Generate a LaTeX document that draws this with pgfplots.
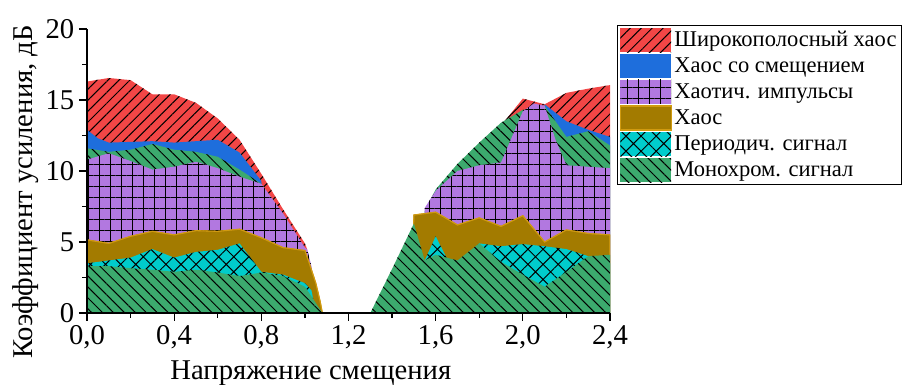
\documentclass[border=0pt]{standalone}
\usepackage{pgfplots}
\pgfplotsset{compat=1.18}
\usepackage{fontspec}
\setmainfont{Liberation Serif}
\usetikzlibrary{patterns.meta}
\definecolor{cRed}{HTML}{F24646}
\definecolor{cBlue}{HTML}{1E6EDC}
\definecolor{cPurp}{HTML}{B278E0}
\definecolor{cBrown}{HTML}{B88C00}
\definecolor{cBrownDk}{HTML}{5E4400}
\definecolor{cBrownEdge}{HTML}{D09A10}
\definecolor{cCyan}{HTML}{00CCCC}
\definecolor{cGreen}{HTML}{3CAA6E}
\definecolor{cOlive}{HTML}{8C8C14}
\begin{document}
\begin{tikzpicture}
\begin{axis}[
  at={(0pt,0pt)}, anchor=south west,
  scale only axis, width=392.25pt, height=213pt,
  xmin=0, xmax=2.4, ymin=0, ymax=20,
  axis lines*=left, axis on top,
  axis line style={black, line width=1pt},
  tick align=outside, major tick length=6pt, minor tick length=3.5pt,
  every tick/.style={black, line width=0.9pt},
  xtick={0,0.4,0.8,1.2,1.6,2.0,2.4},
  xticklabels={{0,0},{0,4},{0,8},{1,2},{1,6},{2,0},{2,4}},
  minor xtick={0.2,0.6,1.0,1.4,1.8,2.2},
  ytick={0,5,10,15,20}, yticklabels={0,5,10,15,20},
  minor ytick={2.5,7.5,12.5,17.5},
  tick label style={font=\fontsize{21.5}{24}\selectfont},
  label style={font=\fontsize{21.5}{24}\selectfont},
  xlabel={Напряжение смещения},
  ylabel={Коэффициент усиления, дБ},
  xlabel style={at={(axis description cs:0.428,-0.233)}, anchor=base},
  ylabel style={at={(axis description cs:-0.1166,0.426)}, anchor=center},
  legend style={at={(1,1)}, anchor=north west, xshift=5pt, yshift=3pt,
    draw=black, line width=0.9pt, inner xsep=2pt, inner ysep=2pt,
    font=\fontsize{16.9}{19}\selectfont, row sep=1.3pt,
    /tikz/every even column/.append style={column sep=4pt}},
  legend cell align=left,
  legend image code/.code={\path[#1, draw=none] (0pt,-9pt) rectangle (38pt,9pt);},
]
% red: wideband chaos
\addplot[fill=cRed, draw=none, postaction={pattern={Lines[angle=45,distance=5.8pt,line width=0.75pt]}, pattern color=black}] coordinates {
(0,16.3) (0.1,16.55) (0.2,16.4) (0.3,15.4) (0.4,15.4) (0.5,14.8) (0.6,13.7) (0.7,12.2) (0.8,9.8) (0.9,7.3) (1.0,4.9) (1.01,4.5) (1.04,0)
(1.88,0) (1.9,13.2) (2.0,15.1) (2.1,14.7) (2.2,15.5) (2.3,15.8) (2.4,16.05)} \closedcycle;
\addlegendentry{Широкополосный хаос}
% blue: chaos with bias
\addplot[fill=cBlue, draw=none] coordinates {
(0,12.9) (0.05,12.3) (0.1,12.0) (0.2,12.05) (0.3,12.1) (0.4,12.0) (0.5,12.1) (0.6,12.2) (0.7,11.3) (0.8,9.3) (0.85,0)
(2.08,0) (2.1,14.7) (2.2,13.5) (2.3,12.9) (2.4,12.4)} \closedcycle;
\addlegendentry{Хаос со смещением}
% green upper: monochromatic
\addplot[forget plot, fill=cGreen, draw=none, postaction={pattern={Lines[angle=-45,distance=5.8pt,line width=0.75pt]}, pattern color=black}] coordinates {
(0,11.6) (0.1,11.35) (0.2,11.5) (0.3,11.9) (0.4,11.5) (0.5,11.35) (0.6,11.0) (0.7,10.1) (0.8,9.1) (0.85,0)
(1.53,0) (1.55,7.2) (1.6,8.7) (1.7,10.5) (1.8,12.0) (1.9,13.4) (2.0,14.3) (2.1,14.6) (2.2,12.4) (2.3,12.8) (2.4,11.8)} \closedcycle;
% purple: chaotic pulses
\addplot[fill=cPurp, draw=none, postaction={pattern={Hatch[angle=0,distance=8.25pt,line width=0.75pt]}, pattern color=black}] coordinates {
(0,10.8) (0.1,11.25) (0.2,10.7) (0.3,10.1) (0.4,10.3) (0.5,10.65) (0.6,10.2) (0.7,9.6) (0.8,9.1) (0.9,7.0) (1.0,4.6) (1.01,4.5) (1.03,3.3) (1.05,1.2) (1.06,0)
(1.53,0) (1.55,7.4) (1.6,8.6) (1.7,10.0) (1.8,10.4) (1.9,10.6) (1.95,12.4) (2.0,14.2) (2.05,14.75) (2.1,14.6) (2.15,12.2) (2.2,10.4) (2.3,10.3) (2.4,10.2)} \closedcycle;
\addlegendentry{Хаотич. импульсы}
% brown: chaos
\addplot[fill=cBrown, draw=cBrownEdge, line width=0.8pt, postaction={pattern={Dots[distance=1.5pt,radius=0.55pt]}, pattern color=cBrownDk}] coordinates {
(0,5.15) (0.1,4.9) (0.2,5.4) (0.3,5.75) (0.4,5.5) (0.5,5.8) (0.6,5.75) (0.7,5.9) (0.8,5.3) (0.9,4.6) (1.0,4.4) (1.02,3.5) (1.05,2.1) (1.07,0.8) (1.08,0)
(1.49,0) (1.5,6.9) (1.6,7.1) (1.7,6.2) (1.8,6.7) (1.9,6.1) (2.0,6.85) (2.1,5.0) (2.2,5.85) (2.3,5.6) (2.4,5.5)} \closedcycle;
\addlegendentry{Хаос}
% cyan: periodic signal
\addplot[fill=cCyan, draw=none, postaction={pattern={Hatch[angle=45,distance=8pt,line width=0.75pt]}, pattern color=black}] coordinates {
(0,3.5) (0.1,3.7) (0.2,3.9) (0.3,4.5) (0.4,3.9) (0.5,4.3) (0.6,4.45) (0.7,4.9) (0.8,2.9) (0.9,2.7) (1.0,2.1) (1.03,1.6) (1.05,0)
(1.49,0) (1.5,3.0) (1.55,3.7) (1.6,5.4) (1.65,3.9) (1.7,3.4) (1.8,4.9) (1.9,4.7) (2.0,4.85) (2.1,4.7) (2.2,4.5) (2.28,4.1) (2.4,3.5)} \closedcycle;
\addlegendentry{Периодич. сигнал}
% green lower: monochromatic
\addplot[fill=cGreen, draw=none, postaction={pattern={Lines[angle=-45,distance=5.8pt,line width=0.75pt]}, pattern color=black}] coordinates {
(0,3.3) (0.1,3.3) (0.2,3.15) (0.3,3.05) (0.4,2.9) (0.5,3.05) (0.6,2.85) (0.7,2.6) (0.8,2.85) (0.9,2.6) (1.0,1.85) (1.05,0.7) (1.08,0)
(1.3,0) (1.4,3.1) (1.5,6.3) (1.55,3.7) (1.6,4.1) (1.7,3.7) (1.8,4.9) (1.9,3.6) (2.0,2.7) (2.1,1.85) (2.2,2.9) (2.3,4.0) (2.4,4.1)} \closedcycle;
\addlegendentry{Монохром. сигнал}
\addplot[forget plot, cOlive, line width=1.2pt] coordinates {(0,0) (2.4,0)};
\end{axis}
\pgfresetboundingbox
\path (-65.25pt,-54pt) rectangle (612.75pt,234.75pt);
\end{tikzpicture}
\end{document}
